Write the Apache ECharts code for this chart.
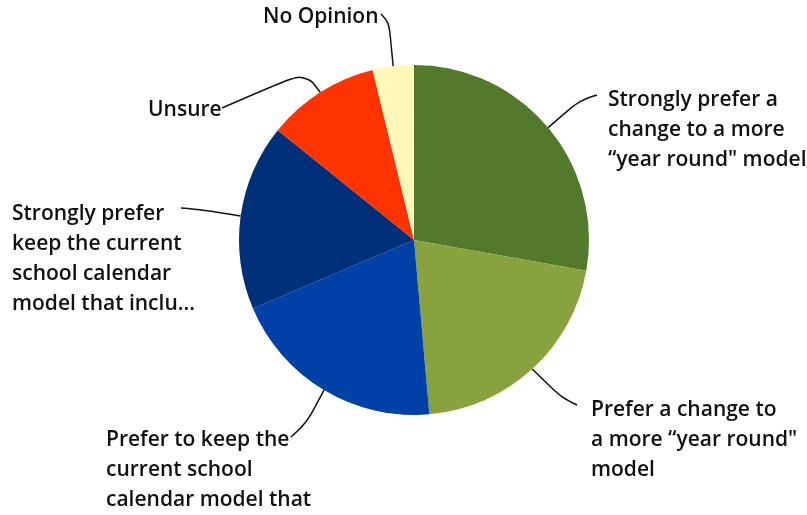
<!DOCTYPE html>
<html>
<head>
<meta charset="utf-8">
<script src="https://cdn.jsdelivr.net/npm/echarts@6/dist/echarts.min.js"></script>
<style>
    html, body {margin: 0; padding: 0; background: #fff;}
    #chart {width: 807px; height: 515px;}
</style>
</head>
<body>
<div id="chart"></div>
<script>
// categories, clockwise from 12 o'clock
const categories = [
    'Strongly prefer a change to a more “year round" model',
    'Prefer a change to a more “year round" model',
    'Prefer to keep the current school calendar model that',
    'Strongly prefer keep the current school calendar model that inclu...',
    'Unsure',
    'No Opinion'
];
// share of responses (%)
const values = [27.8, 20.8, 20.0, 17.2, 10.4, 3.8];
// wrapped label text as shown on the chart
const labelLines = [
    ['Strongly prefer a', 'change to a more', '“year round" model'],
    ['Prefer a change to', 'a more “year round"', 'model'],
    ['Prefer to keep the', 'current school', 'calendar model that'],
    ['Strongly prefer', 'keep the current', 'school calendar', 'model that inclu...'],
    ['Unsure'],
    ['No Opinion']
];
const colors = ['#527a2a', '#88a33d', '#0041a8', '#003079', '#ff3300', '#fff8b8'];

// label placement: top-left of text block, bend of leader line, end of leader line
const labelPlace = [
    {x: 608, y: 85, bend: [580, 100], end: [597, 95]},
    {x: 591, y: 395, bend: [562, 398], end: [577, 405]},
    {x: 106, y: 425, bend: [306, 424], end: [291, 437]},
    {x: 12, y: 199, bend: [205, 210], end: [181, 208]},
    {x: 148, y: 95, bend: [305, 72], end: [222, 108]},
    {x: 263, y: 2, bend: [389, 22], end: [381, 14]}
];

const chart = echarts.init(document.getElementById('chart'));

chart.setOption({
    animation: false,
    color: colors,
    series: [{
        type: 'pie',
        center: [414, 240],
        radius: 175,
        startAngle: 90,
        clockwise: true,
        avoidLabelOverlap: false,
        data: categories.map((name, i) => ({name, value: values[i]})),
        label: {
            show: true,
            formatter: (p) => labelLines[p.dataIndex].join('\n'),
            fontFamily: 'Open Sans',
            fontWeight: 600,
            fontSize: 21,
            lineHeight: 30,
            color: '#111'
        },
        labelLine: {
            show: true,
            smooth: 0.4,
            lineStyle: {color: '#111', width: 1.5}
        },
        labelLayout: (params) => {
            const p = labelPlace[params.dataIndex];
            const start = params.labelLinePoints ? params.labelLinePoints[0] : p.bend;
            return {
                x: p.x,
                y: p.y,
                align: 'left',
                verticalAlign: 'top',
                labelLinePoints: [start, p.bend, p.end]
            };
        }
    }]
});
</script>
</body>
</html>
